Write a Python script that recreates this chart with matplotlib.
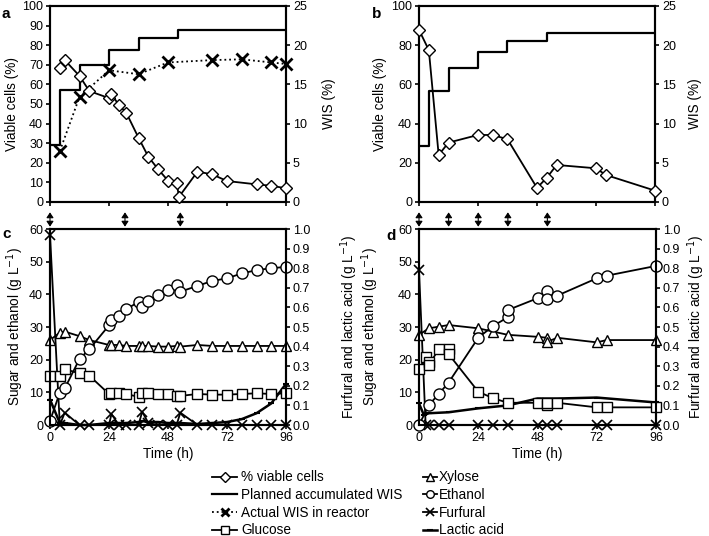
import matplotlib
matplotlib.use("Agg")
import matplotlib.pyplot as plt
from matplotlib.lines import Line2D
from matplotlib.ticker import FormatStrFormatter

plt.rcParams['font.family'] = ['Liberation Sans', 'DejaVu Sans']
plt.rcParams['font.size'] = 9

# panel a - viable cells and WIS
ta_cells = [4, 6, 12, 16, 24, 25, 28, 31, 36, 40, 44, 48, 51.5, 52.5, 60, 66, 72, 84, 90, 96]
cells_a = [68.2, 72.4, 64.3, 56.6, 53.0, 55.0, 49.5, 45.6, 32.8, 23.1, 16.7, 10.9, 9.5, 2.7, 15.5, 14.1, 10.7, 9.0, 8.3, 7.0]
ta_plan = [0, 4, 12, 24, 36, 52, 96]
plan_a = [7.25, 14.25, 17.5, 19.4, 20.9, 22.0, 22.0]
ta_wis = [4, 12, 24, 36, 48, 66, 78, 90, 96]
wis_a = [6.5, 13.4, 16.8, 16.3, 17.8, 18.1, 18.2, 17.8, 17.6]

# panel b
tb_cells = [0, 4, 8, 12, 24, 30, 36, 48, 52, 56, 72, 76, 96]
cells_b = [87.8, 77.5, 24.0, 30.3, 34.2, 34.2, 32.0, 7.2, 12.4, 18.9, 17.2, 13.8, 5.8]
tb_plan = [0, 4, 12, 24, 36, 52, 96]
plan_b = [7.2, 14.2, 17.1, 19.1, 20.5, 21.6, 21.6]

# panel c - sugars, ethanol, inhibitors
tc = [0, 4, 6, 12, 16, 24, 25, 28, 31, 36, 37.5, 40, 44, 48, 51.5, 53, 60, 66, 72, 78, 84, 90, 96]
eth_c = [1.3, 9.9, 11.2, 20.2, 23.2, 30.5, 32.0, 33.4, 35.4, 37.7, 36.2, 38.1, 39.8, 41.3, 42.9, 40.8,
         42.6, 44.1, 44.9, 46.4, 47.4, 48.0, 48.4]
xyl_c = [26.0, 28.3, 28.6, 27.2, 26.0, 24.5, 24.5, 24.5, 24.2, 24.2, 24.2, 24.2, 24.0, 24.0, 24.2, 24.0,
         24.5, 24.2, 24.2, 24.2, 24.2, 24.2, 24.2]
glc_c = [15.0, 15.0, 17.1, 15.8, 15.1, 9.5, 9.7, 9.9, 9.4, 8.7, 9.7, 9.7, 9.5, 9.4, 9.0, 8.9,
         9.5, 9.3, 9.3, 9.5, 9.7, 9.5, 9.7]
fur_c = [0.97, 0, 0.063, 0, 0, 0, 0.056, 0, 0, 0, 0.068, 0.01, 0, 0, 0, 0.063,
         0, 0, 0, 0, 0, 0, 0]
lac_c = [0.13, 0.01, 0.01, 0.0, 0.0, 0.01, 0.01, 0.01, 0.01, 0.015, 0.02, 0.015, 0.015, 0.01, 0.01, 0.01,
         0.005, 0.01, 0.015, 0.03, 0.06, 0.11, 0.21]
arrows_c = [0, 30.5, 53]

# panel d
td_eth = [0, 4, 8, 12, 24, 30, 36, 36, 48, 52, 52, 56, 72, 76, 96]
eth_d = [0, 6.1, 9.5, 13.0, 26.7, 30.3, 33.0, 35.2, 38.8, 41.0, 38.5, 39.6, 44.9, 45.7, 48.7]
td_xyl = [0, 4, 8, 12, 24, 30, 36, 48, 52, 52, 56, 72, 76, 96]
xyl_d = [27.6, 29.6, 30.1, 30.6, 29.6, 28.6, 27.6, 27.0, 26.7, 25.5, 26.7, 25.3, 26.0, 26.0]
td_glc = [0, 2.7, 4, 4, 8, 12, 12, 24, 30, 36, 48, 52, 52, 56, 72, 76, 96]
glc_d = [17.0, 20.9, 19.4, 18.4, 23.2, 23.2, 21.7, 10.2, 8.2, 6.8, 6.8, 6.1, 6.8, 6.8, 5.4, 5.4, 5.4]
td_fur = [0, 2.7, 4, 8, 12, 24, 30, 36, 48, 52, 56, 72, 76, 96]
fur_d = [0.79, 0, 0, 0, 0, 0, 0, 0, 0, 0, 0, 0, 0, 0]
td_lac = [0, 2, 4, 12, 24, 36, 48, 56, 72, 96]
lac_d = [0.11, 0.05, 0.06, 0.065, 0.085, 0.1, 0.135, 0.135, 0.14, 0.115]
arrows_d = [0, 12, 24, 36, 52]

lw = 1.3
cell_style = dict(color='black', lw=lw, marker='D', ms=6, mfc='white', mec='black', mew=1)
plan_style = dict(color='black', lw=1.6, drawstyle='steps-post')
wis_style = dict(color='black', lw=1.3, ls=':', marker='x', ms=8, mew=2)
glc_style = dict(color='black', lw=lw, marker='s', ms=7, mfc='white', mec='black', mew=1)
xyl_style = dict(color='black', lw=lw, marker='^', ms=7.5, mfc='white', mec='black', mew=1)
eth_style = dict(color='black', lw=lw, marker='o', ms=8, mfc='white', mec='black', mew=1)
fur_style = dict(color='black', lw=lw, marker='x', ms=7, mew=1.2)
lac_style = dict(color='black', lw=1.8, marker='_', ms=5, mew=1.5)

fig = plt.figure(figsize=(7.09, 5.36), dpi=100)
W, H = 709, 536


def make_axes(x0, y0, x1, y1):
    return fig.add_axes([x0 / W, 1 - y1 / H, (x1 - x0) / W, (y1 - y0) / H])


def style_axes(ax):
    for s in ax.spines.values():
        s.set_linewidth(1.5)
    ax.tick_params(direction='out', length=3, width=1.2, pad=2, labelsize=9)


def setup_x(ax, labels):
    ax.set_xlim(0, 96)
    ax.set_xticks([0, 24, 48, 72, 96])
    if not labels:
        ax.set_xticklabels([])
    else:
        ax.set_xlabel('Time (h)', fontsize=9.8, labelpad=2)


ax_a = make_axes(50, 6, 286, 202)
ax_b = make_axes(419, 6, 655, 202)
ax_c = make_axes(50, 229, 286, 425)
ax_d = make_axes(419, 229, 656, 425)

# top panels
for ax, tcell, cells, tplan, plan, step, lpad, rpad in [
        (ax_a, ta_cells, cells_a, ta_plan, plan_a, 10, 2, 11),
        (ax_b, tb_cells, cells_b, tb_plan, plan_b, 20, 3, 9)]:
    ax2 = ax.twinx()
    ax.set_ylim(0, 100)
    ax.set_yticks(range(0, 101, step))
    ax2.set_ylim(0, 25)
    ax2.set_yticks(range(0, 26, 5))
    ax.plot(tcell, cells, **cell_style, zorder=5, clip_on=False)
    ax2.plot(tplan, plan, **plan_style)
    ax.set_ylabel('Viable cells (%)', fontsize=9.8, labelpad=lpad)
    ax2.set_ylabel('WIS (%)', fontsize=9.8, labelpad=rpad)
    setup_x(ax, False)
    style_axes(ax)
    style_axes(ax2)
    ax.set_zorder(ax2.get_zorder() + 1)
    ax.patch.set_visible(False)
    if ax is ax_a:
        ax2.plot(ta_wis, wis_a, **wis_style, clip_on=False)

# bottom panels
for ax, arrows, lpad, rpad in [(ax_c, arrows_c, 2, 20), (ax_d, arrows_d, 12, 4)]:
    ax2 = ax.twinx()
    ax.set_ylim(0, 60)
    ax.set_yticks(range(0, 61, 10))
    ax2.set_ylim(0, 1.0)
    ax2.set_yticks([i / 10 for i in range(11)])
    ax2.yaxis.set_major_formatter(FormatStrFormatter('%.1f'))
    ax.set_ylabel('Sugar and ethanol (g L$^{-1}$)', fontsize=9.8, labelpad=lpad)
    ax2.set_ylabel('Furfural and lactic acid (g L$^{-1}$)', fontsize=9.8, labelpad=rpad)
    setup_x(ax, True)
    style_axes(ax)
    style_axes(ax2)
    for t in arrows:
        ax.annotate('', xy=(t, 1.012), xytext=(t, 1.085), xycoords=('data', 'axes fraction'),
                    textcoords=('data', 'axes fraction'),
                    arrowprops=dict(arrowstyle='<|-|>,head_length=0.45,head_width=0.3', color='black',
                                    lw=0.8, mutation_scale=7, shrinkA=0, shrinkB=0),
                    annotation_clip=False)
    if ax is ax_c:
        ax2.plot(tc, lac_c, **lac_style, clip_on=False)
        ax2.plot(tc, fur_c, **fur_style, clip_on=False)
        ax.plot(tc, glc_c, **glc_style, clip_on=False)
        ax.plot(tc, xyl_c, **xyl_style, clip_on=False)
        ax.plot(tc, eth_c, **eth_style, clip_on=False)
    else:
        ax2.plot(td_lac, lac_d, **lac_style, clip_on=False)
        ax2.plot(td_fur, fur_d, **fur_style, clip_on=False)
        ax.plot(td_glc, glc_d, **glc_style, clip_on=False)
        ax.plot(td_xyl, xyl_d, **xyl_style, clip_on=False)
        ax.plot(td_eth, eth_d, **eth_style, clip_on=False)
    ax.set_zorder(ax2.get_zorder() + 1)
    ax.patch.set_visible(False)

# panel letters
for lbl, x, y in [('a', 2, 14), ('b', 372, 14), ('c', 2, 234), ('d', 386, 236)]:
    fig.text(x / W, 1 - y / H, lbl, fontsize=11, fontweight='bold', va='center')

# legends
h1 = [Line2D([], [], **dict(cell_style, ms=5)),
      Line2D([], [], color='black', lw=1.6),
      Line2D([], [], **dict(wis_style, ms=6)),
      Line2D([], [], **dict(glc_style, ms=5.5))]
l1 = ['% viable cells', 'Planned accumulated WIS', 'Actual WIS in reactor', 'Glucose']
h2 = [Line2D([], [], **dict(xyl_style, ms=5.5)),
      Line2D([], [], **dict(eth_style, ms=5.5)),
      Line2D([], [], **dict(fur_style, ms=6)),
      Line2D([], [], **lac_style)]
l2 = ['Xylose', 'Ethanol', 'Furfural', 'Lactic acid']
fig.legend(h1, l1, loc='upper left', bbox_to_anchor=(207 / W, 1 - 465 / H), frameon=False,
           handlelength=1.8, handletextpad=0.3, labelspacing=0.27, fontsize=9.8, borderaxespad=0)
fig.legend(h2, l2, loc='upper left', bbox_to_anchor=(418 / W, 1 - 465 / H), frameon=False,
           handlelength=1.0, handletextpad=0.15, labelspacing=0.27, fontsize=9.8, borderaxespad=0)

fig.savefig('out.png', dpi=100)
